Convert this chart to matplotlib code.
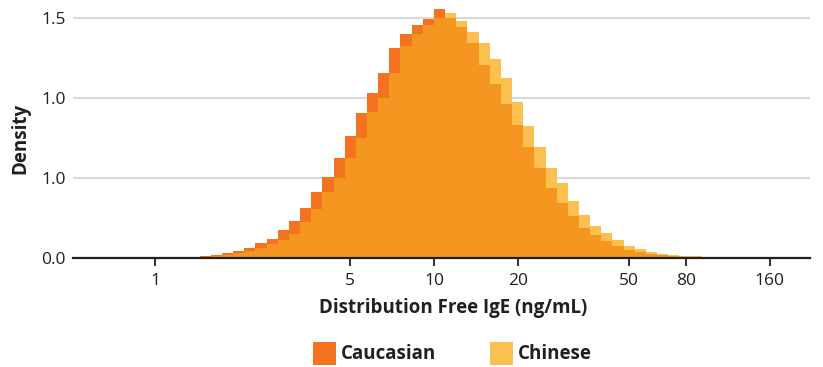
import numpy as np
import matplotlib.pyplot as plt
from matplotlib.patches import Rectangle

# log10-spaced bins, width 0.04 decades
bin_edges = 10 ** (0.04 * np.arange(4, 50))

caucasian = [0.012, 0.018, 0.027, 0.042, 0.060, 0.089, 0.117, 0.175, 0.229, 0.310,
             0.410, 0.505, 0.625, 0.760, 0.905, 1.030, 1.155, 1.310, 1.400, 1.452,
             1.488, 1.556, 1.494, 1.440, 1.343, 1.203, 1.087, 0.957, 0.830, 0.690,
             0.557, 0.436, 0.340, 0.259, 0.184, 0.140, 0.101, 0.070, 0.047, 0.032,
             0.021, 0.015, 0.009, 0.005, 0.003]
chinese = [0.006, 0.010, 0.018, 0.030, 0.043, 0.059, 0.086, 0.112, 0.148, 0.223,
           0.305, 0.410, 0.498, 0.620, 0.748, 0.908, 0.996, 1.155, 1.320, 1.395,
           1.452, 1.495, 1.526, 1.476, 1.410, 1.343, 1.238, 1.120, 0.970, 0.822,
           0.690, 0.562, 0.463, 0.351, 0.263, 0.200, 0.151, 0.107, 0.074, 0.051,
           0.032, 0.022, 0.015, 0.011, 0.007]

x_ticks = [1, 5, 10, 20, 50, 80, 160]
y_ticks = [0.0, 0.5, 1.0, 1.5]
y_tick_labels = ['0.0', '1.0', '1.0', '1.5']

c_cau = '#F37321'
c_chn = '#FBC050'
c_both = '#F4961F'
dark = '#231F20'

plt.rcParams['font.family'] = ['Open Sans', 'DejaVu Sans']

fig = plt.figure(figsize=(8.23, 3.67), dpi=100)
ax = fig.add_axes([73 / 823, 109.5 / 367, 737 / 823, 256 / 367])

left = bin_edges[:-1]
width = np.diff(bin_edges)
ax.bar(left, caucasian, width=width, align='edge', color=c_cau, linewidth=0, zorder=2)
ax.bar(left, chinese, width=width, align='edge', color=c_chn, linewidth=0, zorder=2)
ax.bar(left, np.minimum(caucasian, chinese), width=width, align='edge',
       color=c_both, linewidth=0, zorder=3)

ax.set_xscale('log')
ax.set_xlim(0.508, 223)
ax.set_ylim(0, 1.6)

ax.set_xticks(x_ticks)
ax.set_xticklabels([str(t) for t in x_ticks])
ax.minorticks_off()
ax.set_yticks(y_ticks)
ax.set_yticklabels(y_tick_labels)

ax.tick_params(axis='x', length=5.5, width=1.3, color=dark, labelsize=12.5,
               labelcolor=dark, pad=6)
ax.tick_params(axis='y', length=0, labelsize=12.5, labelcolor=dark, pad=5)

ax.yaxis.grid(True, color='#D9D9D9', linewidth=1.5, zorder=0)
ax.set_axisbelow(True)

for s in ['top', 'right', 'left']:
    ax.spines[s].set_visible(False)
ax.spines['bottom'].set_color(dark)
ax.spines['bottom'].set_linewidth(1.6)
ax.spines['bottom'].set_zorder(5)

fig.text(453 / 823, 1 - 308 / 367, 'Distribution Free IgE (ng/mL)', ha='center',
         va='center', fontsize=13.5, fontweight='bold', color=dark)
fig.text(20 / 823, 1 - 138 / 367, 'Density', rotation=90, ha='center',
         va='center', fontsize=13.5, fontweight='bold', color=dark)

# legend
for x0, col, lab in [(313, c_cau, 'Caucasian'), (490, c_chn, 'Chinese')]:
    fig.patches.append(Rectangle((x0 / 823, 1 - 365 / 367), 23 / 823, 23 / 367,
                                 transform=fig.transFigure, color=col, linewidth=0))
    fig.text((x0 + 28) / 823, 1 - 354 / 367, lab, ha='left', va='center',
             fontsize=13.5, fontweight='bold', color=dark)

fig.savefig('out.png', dpi=100)
